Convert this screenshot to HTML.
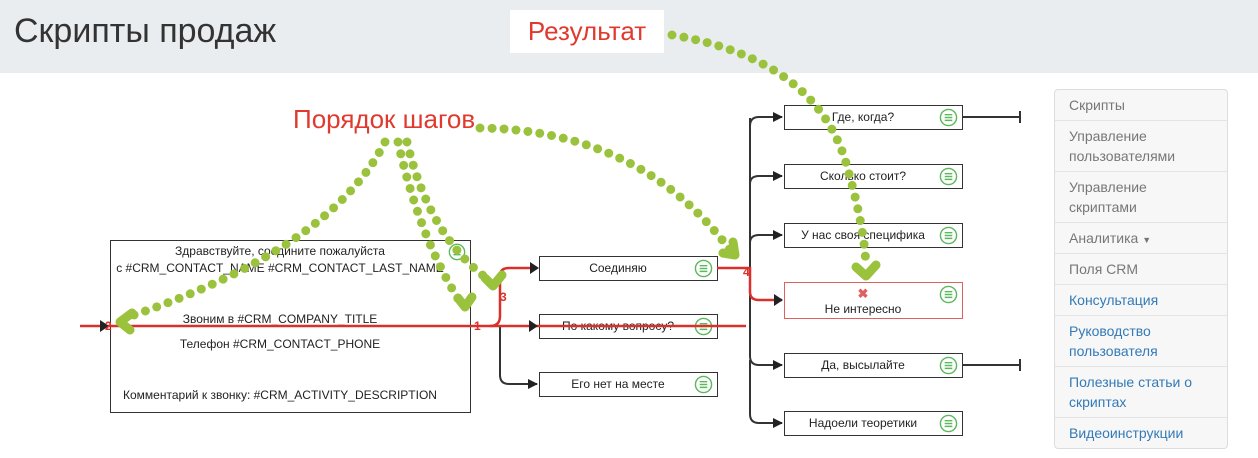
<!DOCTYPE html>
<html><head><meta charset="utf-8"><style>
body{margin:0;width:1258px;height:458px;overflow:hidden;background:#fff;font-family:"Liberation Sans",sans-serif;position:relative}
.hdr{position:absolute;left:0;top:0;width:1258px;height:73px;background:#e9edf0}
.title{position:absolute;left:14px;top:12px;font-size:34px;color:#333}
.res{position:absolute;left:510px;top:10px;width:154px;height:43px;background:#fff;color:#e03a2f;font-size:26px;line-height:43px;text-align:center}
.side{position:absolute;left:1054px;top:89px;width:172px;border:1px solid #ddd;border-radius:4px;background:#f7f7f7}
.side div{border-top:1px solid #e4e4e4;padding:5px 14px;font-size:14px;line-height:20px;height:20px;color:#777}
.side div.t{height:40px}
.side div:first-child{border-top:none}
.side .b{color:#337ab7}
svg{position:absolute;left:0;top:0}
</style></head><body>
<div class="hdr"></div>
<div class="title">Скрипты продаж</div>
<div class="res">Результат</div>
<div class="side">
<div>Скрипты</div><div class="t">Управление пользователями</div><div class="t">Управление скриптами</div>
<div>Аналитика <span style="font-size:9px;line-height:10px">▼</span></div><div>Поля CRM</div>
<div class="b">Консультация</div><div class="b t">Руководство пользователя</div><div class="b t">Полезные статьи о скриптах</div><div class="b">Видеоинструкции</div>
</div>
<svg width="1258" height="458" font-family="Liberation Sans, sans-serif">
<defs>
<marker id="ab" markerWidth="10" markerHeight="10" refX="9" refY="5" orient="auto" markerUnits="userSpaceOnUse"><path d="M0,0 L10,5 L0,10z" fill="#222"/></marker>
<symbol id="ic" viewBox="0 0 20 20"><circle cx="10" cy="10" r="8.5" fill="#fff" stroke="#5cb85c" stroke-width="1.5"/><path d="M6,7h8M6,10h8M6,13h8" stroke="#5cb85c" stroke-width="1.5"/></symbol>
</defs>
<!-- black connectors -->
<g fill="none" stroke="#333" stroke-width="2">
<path d="M500,326 V375 Q500,384 509,384 H537" marker-end="url(#ab)"/>
<path d="M750,126 Q750,117 759,117 H782" marker-end="url(#ab)"/>
<path d="M750,184 Q750,176 759,176 H782" marker-end="url(#ab)"/>
<path d="M750,243 Q750,235 759,235 H782" marker-end="url(#ab)"/>
<path d="M750,118 V356 Q750,365 759,365 H782" marker-end="url(#ab)"/>
<path d="M750,360 V414 Q750,423 759,423 H782" marker-end="url(#ab)"/>
<path d="M962,117 H1020 M1020,111 V123 M962,365 H1020 M1020,359 V371"/>
</g>
<!-- nodes -->
<g fill="#fff" stroke="#333" stroke-width="1">
<rect x="110.5" y="240.5" width="360" height="172"/>
<rect x="539.5" y="256.5" width="178" height="24"/>
<rect x="539.5" y="314.5" width="178" height="24"/>
<rect x="539.5" y="372.5" width="178" height="24"/>
<rect x="784.5" y="105.5" width="178" height="24"/>
<rect x="784.5" y="164.5" width="178" height="24"/>
<rect x="784.5" y="223.5" width="178" height="24"/>
<rect x="784.5" y="282.5" width="178" height="36" stroke="#e06060"/>
<rect x="784.5" y="353.5" width="178" height="24"/>
<rect x="784.5" y="411.5" width="178" height="24"/>
</g>
<g font-size="12" fill="#222" text-anchor="middle">
<text x="280" y="255">Здравствуйте, соедините пожалуйста</text>
<text x="280" y="272">с #CRM_CONTACT_NAME #CRM_CONTACT_LAST_NAME</text>
<text x="280" y="323">Звоним в #CRM_COMPANY_TITLE</text>
<text x="280" y="348">Телефон #CRM_CONTACT_PHONE</text>
<text x="280" y="399">Комментарий к звонку: #CRM_ACTIVITY_DESCRIPTION</text>
<text x="618" y="272">Соединяю</text>
<text x="618" y="330">По какому вопросу?</text>
<text x="618" y="388">Его нет на месте</text>
<text x="863" y="121">Где, когда?</text>
<text x="863" y="180">Сколько стоит?</text>
<text x="863" y="239">У нас своя специфика</text>
<text x="863" y="298" fill="#e06060" font-weight="bold" font-size="13">✖</text>
<text x="863" y="313">Не интересно</text>
<text x="863" y="369">Да, высылайте</text>
<text x="863" y="427">Надоели теоретики</text>
</g>
<use href="#ic" x="448" y="243" width="18" height="18"/>
<use href="#ic" x="694" y="259" width="19" height="19"/>
<use href="#ic" x="694" y="317" width="19" height="19"/>
<use href="#ic" x="694" y="375" width="19" height="19"/>
<use href="#ic" x="939" y="108" width="19" height="19"/>
<use href="#ic" x="939" y="167" width="19" height="19"/>
<use href="#ic" x="939" y="226" width="19" height="19"/>
<use href="#ic" x="939" y="285" width="19" height="19"/>
<use href="#ic" x="939" y="356" width="19" height="19"/>
<use href="#ic" x="939" y="414" width="19" height="19"/>
<!-- red on top -->
<g fill="none" stroke="#d9302c" stroke-width="2.5">
<path d="M80,326 H746"/>
<path d="M490,326 Q500,326 500,316 V276 Q500,268 509,268 H537"/>
<path d="M717,268 H750 V292 Q750,300 759,300 H782"/>
</g>
<path d="M530,262 L539,268 L530,274z M774,294 L783,300 L774,306z M100,320 L109,326 L100,332z M529,320 L538,326 L529,332z" fill="#222"/>
<g font-size="12" font-weight="bold" fill="#d9302c"><text x="105" y="330">2</text><text x="474" y="330">1</text><text x="500" y="301">3</text><text x="743" y="276">4</text></g>
<!-- green dotted -->
<text x="293" y="128" font-size="26" fill="#e03a2f">Порядок шагов</text>
<g fill="none" stroke="#9bc23c" stroke-width="9" stroke-linecap="round" stroke-dasharray="0 12">
<path d="M385,142 Q330,250 125,318"/>
<path d="M398,142 Q420,240 462,305"/>
<path d="M407,142 Q430,240 492,282"/>
<path d="M480,128 Q640,130 730,250"/>
<path d="M672,35 Q820,60 848,170 Q865,230 866,268"/>
</g>
<g fill="none" stroke="#9bc23c" stroke-width="9" stroke-linecap="round" stroke-linejoin="round">
<path d="M132,313 L120,322 L130,330"/>
<path d="M458,298 L465,307 L472,297"/>
<path d="M485,278 L493,286 L502,275"/>
<path d="M723,253 L735,255 L733,242"/>
<path d="M856,267 L866,276 L876,265"/>
</g>
</svg>
</body></html>
